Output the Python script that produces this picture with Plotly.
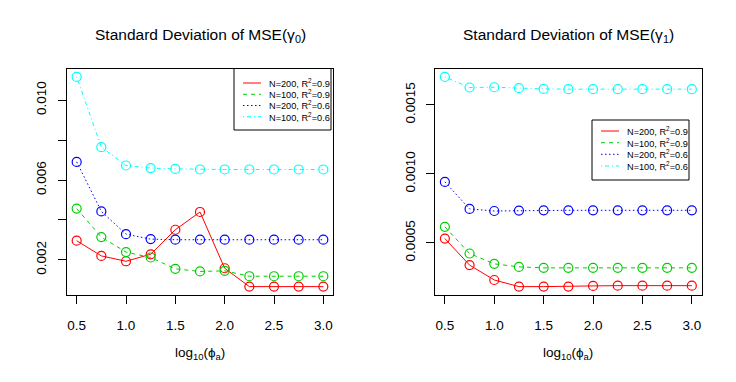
import plotly.graph_objects as go

# ---------------- data ----------------
log_phi = [0.5, 0.75, 1.0, 1.25, 1.5, 1.75, 2.0, 2.25, 2.5, 2.75, 3.0]

series_names = ["N=200, R<sup>2</sup>=0.9", "N=100, R<sup>2</sup>=0.9",
                "N=200, R<sup>2</sup>=0.6", "N=100, R<sup>2</sup>=0.6"]

g0_n200_r09 = [0.00296, 0.00220, 0.00193, 0.00228, 0.00351, 0.00440, 0.00158, 0.00066, 0.00066, 0.00066, 0.00066]
g0_n100_r09 = [0.00457, 0.00314, 0.00239, 0.00212, 0.00155, 0.00142, 0.00145, 0.00118, 0.00118, 0.00118, 0.00118]
g0_n200_r06 = [0.00691, 0.00443, 0.00329, 0.00304, 0.00301, 0.00301, 0.00301, 0.00301, 0.00301, 0.00301, 0.00301]
g0_n100_r06 = [0.01117, 0.00765, 0.00673, 0.00660, 0.00656, 0.00653, 0.00653, 0.00653, 0.00653, 0.00653, 0.00653]

g1_n200_r09 = [0.000531, 0.000339, 0.000231, 0.000183, 0.000183, 0.000183, 0.000188, 0.000190, 0.000190, 0.000190, 0.000190]
g1_n100_r09 = [0.000616, 0.000423, 0.000348, 0.000326, 0.000319, 0.000319, 0.000319, 0.000319, 0.000319, 0.000319, 0.000319]
g1_n200_r06 = [0.000942, 0.000746, 0.000731, 0.000734, 0.000736, 0.000736, 0.000736, 0.000736, 0.000736, 0.000736, 0.000736]
g1_n100_r06 = [0.001703, 0.001626, 0.001628, 0.001621, 0.001616, 0.001614, 0.001614, 0.001614, 0.001614, 0.001614, 0.001614]

x_ticks = [0.5, 1.0, 1.5, 2.0, 2.5, 3.0]
x_tick_labels = ["0.5", "1.0", "1.5", "2.0", "2.5", "3.0"]
y0_ticks = [0.002, 0.004, 0.006, 0.008, 0.010]
y0_tick_labels = ["0.002", "", "0.006", "", "0.010"]
y1_ticks = [0.0005, 0.0010, 0.0015]
y1_tick_labels = ["0.0005", "0.0010", "0.0015"]

titles = ["Standard Deviation of MSE(γ<sub>0</sub>)", "Standard Deviation of MSE(γ<sub>1</sub>)"]
x_title = "log<sub>10</sub>(ϕ<sub>a</sub>)"

# ---------------- style ----------------
W, H = 736, 382
FONT = "Liberation Sans, Arial, Helvetica, sans-serif"
colors = ["#FF0000", "#00CD00", "#0000FF", "#00FFFF"]
dashes = ["solid", "4px,4px", "1.5px,2.5px", "1px,3px,4px,3px"]

def px(x):
    return x / W

def py(y):
    return 1 - y / H

left_dom = [px(66.8), px(333.2)]
right_dom = [px(435.0), px(701.7)]
y_dom = [py(295.0), py(68.5)]

def r_range(vals):
    lo, hi = min(vals), max(vals)
    d = (hi - lo) * 0.04
    return [lo - d, hi + d]

fig = go.Figure()

panels = [
    ("x", "y", [g0_n200_r09, g0_n100_r09, g0_n200_r06, g0_n100_r06]),
    ("x2", "y2", [g1_n200_r09, g1_n100_r09, g1_n200_r06, g1_n100_r06]),
]
for xa, ya, sers in panels:
    for name, vals, c, d in zip(series_names, sers, colors, dashes):
        fig.add_trace(go.Scatter(
            x=log_phi, y=vals, mode="lines+markers", name=name,
            xaxis=xa, yaxis=ya, showlegend=False,
            line=dict(color=c, width=1, dash=d),
            marker=dict(symbol="circle-open", size=9, color=c, line=dict(width=1.2, color=c)),
        ))

all0 = g0_n200_r09 + g0_n100_r09 + g0_n200_r06 + g0_n100_r06
all1 = g1_n200_r09 + g1_n100_r09 + g1_n200_r06 + g1_n100_r06

axis_common = dict(showline=True, linecolor="black", linewidth=1, mirror=True,
                   ticks="outside", ticklen=8, tickwidth=1, tickcolor="black",
                   showgrid=False, zeroline=False,
                   tickfont=dict(family=FONT, size=13.5, color="black"), automargin=False)

fig.update_layout(
    width=W, height=H, margin=dict(l=0, r=0, t=0, b=0),
    paper_bgcolor="white", plot_bgcolor="white", showlegend=False,
    font=dict(family=FONT, color="black"),
    xaxis=dict(domain=left_dom, range=[0.4, 3.1], anchor="y",
               tickvals=x_ticks, ticktext=x_tick_labels, ticklabelstandoff=10, **axis_common),
    yaxis=dict(domain=y_dom, range=r_range(all0), anchor="x",
               tickvals=y0_ticks, ticktext=y0_tick_labels, tickangle=-90, ticklabelstandoff=6, **axis_common),
    xaxis2=dict(domain=right_dom, range=[0.4, 3.1], anchor="y2",
                tickvals=x_ticks, ticktext=x_tick_labels, ticklabelstandoff=10, **axis_common),
    yaxis2=dict(domain=y_dom, range=r_range(all1), anchor="x2",
                tickvals=y1_ticks, ticktext=y1_tick_labels, tickangle=-90, ticklabelstandoff=6, **axis_common),
)

annotations = []
shapes = []
for dom, title in zip([left_dom, right_dom], titles):
    cx = (dom[0] + dom[1]) / 2
    annotations.append(dict(text=title, x=cx, y=py(36), xref="paper", yref="paper",
                            xanchor="center", yanchor="middle", showarrow=False,
                            font=dict(family=FONT, size=15.5, color="black")))
    annotations.append(dict(text=x_title, x=cx, y=py(353), xref="paper", yref="paper",
                            xanchor="center", yanchor="middle", showarrow=False,
                            font=dict(family=FONT, size=13.5, color="black")))

# legends (R-style boxes)
legend_boxes = [
    dict(x0=234, x1=331, y0=68.5, y1=130, rows=[83.0, 94.3, 105.5, 116.7], lx0=243, lx1=261, tx=267),
    dict(x0=592, x1=689, y0=120, y1=180, rows=[131.0, 142.7, 154.3, 166.0], lx0=601, lx1=619, tx=625),
]
for lb in legend_boxes:
    shapes.append(dict(type="rect", xref="paper", yref="paper",
                       x0=px(lb["x0"]), x1=px(lb["x1"]), y0=py(lb["y1"]), y1=py(lb["y0"]),
                       line=dict(color="black", width=1), fillcolor="white", layer="above"))
    for name, c, d, ry in zip(series_names, colors, dashes, lb["rows"]):
        shapes.append(dict(type="line", xref="paper", yref="paper",
                           x0=px(lb["lx0"]), x1=px(lb["lx1"]), y0=py(ry), y1=py(ry),
                           line=dict(color=c, width=1, dash=d), layer="above"))
        annotations.append(dict(text=name, x=px(lb["tx"]), y=py(ry), xref="paper", yref="paper",
                                xanchor="left", yanchor="middle", showarrow=False,
                                font=dict(family=FONT, size=9.2, color="black")))

fig.update_layout(annotations=annotations, shapes=shapes)
fig.write_html("out.html", config={"displayModeBar": False},
               post_script="document.body.style.margin='0';document.body.style.overflow='hidden';")
